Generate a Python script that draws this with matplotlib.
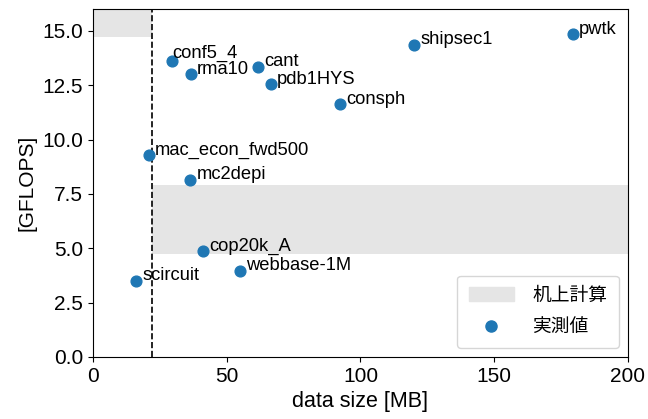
import numpy as np
import matplotlib
matplotlib.use("Agg")
import matplotlib.pyplot as plt
from matplotlib.patches import Patch
from matplotlib.lines import Line2D

plt.rcParams['font.family'] = ['Liberation Sans', 'Noto Sans CJK JP']

# measured performance per matrix
names = ["pwtk", "shipsec1", "conf5_4", "cant", "rma10", "pdb1HYS", "consph",
         "mac_econ_fwd500", "mc2depi", "cop20k_A", "webbase-1M", "scircuit"]
size_mb = np.array([179.4, 120.0, 29.5, 61.7, 36.6, 66.5, 92.3, 20.9, 36.3, 41.1, 55.0, 16.1])
gflops = np.array([14.86, 14.36, 13.62, 13.35, 13.02, 12.56, 11.64, 9.30, 8.15, 4.88, 3.96, 3.50])

# label offsets in points
label_dx = [4.5, 4.5, 0.5, 4.5, 4.5, 4.5, 4.5, 4.5, 4.5, 4.5, 4.5, 4.5]
label_dy = [0.3, 0.3, 2.5, 0.3, 0.0, 0.3, 0.3, 0.3, 0.3, 0.3, 0.3, 0.3]

# cache size and estimated ranges
cache_mb = 22.0
est_in_cache = (14.73, 16.0)
est_out_cache = (4.74, 7.92)

fig = plt.figure(figsize=(6.48, 4.19), dpi=100)
ax = fig.add_axes([0.1435, 0.148, 0.8255, 0.83])

ax.fill_between([0, cache_mb], est_in_cache[0], est_in_cache[1], color="#e5e5e5", lw=0)
ax.fill_between([cache_mb, 200], est_out_cache[0], est_out_cache[1], color="#e5e5e5", lw=0)
ax.axvline(cache_mb, color="k", ls="--", lw=1.2)

ax.scatter(size_mb, gflops, s=60, color="#1f77b4", zorder=3)
for n, x, y, dx, dy in zip(names, size_mb, gflops, label_dx, label_dy):
    ax.annotate(n, (x, y), xytext=(dx, dy), textcoords="offset points", fontsize=13.2)

ax.set_xlim(0, 200)
ax.set_ylim(0, 16)
ax.set_xticks(np.arange(0, 201, 50))
ax.set_yticks(np.arange(0, 16, 2.5))
ax.set_xlabel("data size [MB]", fontsize=15.5)
ax.set_ylabel("[GFLOPS]", fontsize=15)
ax.tick_params(labelsize=15)

handles = [Patch(color="#e5e5e5", label="机上計算"),
           Line2D([], [], marker="o", ls="", color="#1f77b4", markersize=8, label="実測値")]
ax.legend(handles=handles, loc="lower right", fontsize=13.5, handlelength=2.4,
          handleheight=0.8, labelspacing=0.75, handletextpad=1.0, borderpad=0.6)

fig.savefig("out.png", dpi=100)
